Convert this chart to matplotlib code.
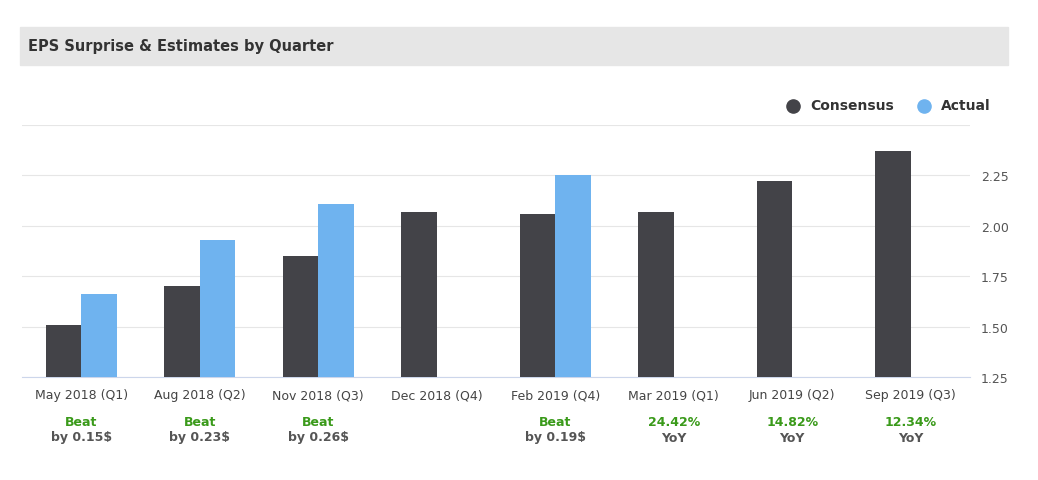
import matplotlib.pyplot as plt
import numpy as np
from matplotlib.patches import Rectangle

quarters = ["May 2018 (Q1)", "Aug 2018 (Q2)", "Nov 2018 (Q3)", "Dec 2018 (Q4)",
            "Feb 2019 (Q4)", "Mar 2019 (Q1)", "Jun 2019 (Q2)", "Sep 2019 (Q3)"]
consensus = [1.51, 1.70, 1.85, 2.07, 2.06, 2.07, 2.22, 2.37]
actual = [1.66, 1.93, 2.11, None, 2.25, None, None, None]
top_notes = ["Beat", "Beat", "Beat", "", "Beat", "24.42%", "14.82%", "12.34%"]
bottom_notes = ["by 0.15$", "by 0.23$", "by 0.26$", "", "by 0.19$", "YoY", "YoY", "YoY"]

dark = "#434348"
blue = "#6fb3ef"
green = "#3a9a1a"

fig = plt.figure(figsize=(10.38, 4.81), dpi=100)
fig.patches.append(Rectangle((20 / 1038, 1 - 66 / 481), 988 / 1038, 38 / 481,
                             transform=fig.transFigure, color="#e6e6e6", zorder=0))
fig.text(28 / 1038, 1 - 47 / 481, "EPS Surprise & Estimates by Quarter",
         fontsize=10.5, fontweight="bold", color="#333333", va="center")

ax = fig.add_axes([22 / 1038, 1 - 378 / 481, 948 / 1038, 252 / 481])
x = np.arange(len(quarters))
w = 0.3
ax.bar(x - w / 2, np.array(consensus) - 1.25, w, bottom=1.25, color=dark, zorder=3)
for i, v in enumerate(actual):
    if v is not None:
        ax.bar(i + w / 2, v - 1.25, w, bottom=1.25, color=blue, zorder=3)

ax.set_xlim(-0.5, len(quarters) - 0.5)
ax.set_ylim(1.25, 2.5)
ax.set_yticks([1.25, 1.5, 1.75, 2.0, 2.25, 2.5])
ax.set_yticklabels(["1.25", "1.50", "1.75", "2.00", "2.25", ""])
ax.yaxis.tick_right()
ax.grid(axis="y", color="#e6e6e6", zorder=0)
for s in ["top", "left", "right"]:
    ax.spines[s].set_visible(False)
ax.spines["bottom"].set_color("#ccd6eb")
ax.tick_params(axis="y", length=0, labelsize=9, colors="#555555", pad=8)
ax.set_xticks(x)
ax.set_xticklabels(quarters)
ax.tick_params(axis="x", length=0, labelsize=9, colors="#444444", pad=8)

for i in range(len(quarters)):
    xf = (22 + (i + 0.5) * 948 / 8) / 1038
    fig.text(xf, 1 - 423 / 481, top_notes[i], ha="center", va="center",
             fontsize=9, fontweight="bold", color=green)
    fig.text(xf, 1 - 438 / 481, bottom_notes[i], ha="center", va="center",
             fontsize=9, fontweight="bold", color="#555555")

ax.scatter([], [], color=dark, s=90, label="Consensus")
ax.scatter([], [], color=blue, s=90, label="Actual")
leg = ax.legend(loc="lower right", bbox_to_anchor=(1.035, 1.0), ncol=2, frameon=False,
                prop={"weight": "bold", "size": 10}, handletextpad=0.2, columnspacing=1.2)
for t in leg.get_texts():
    t.set_color("#333333")

fig.savefig("out.png", dpi=100)
